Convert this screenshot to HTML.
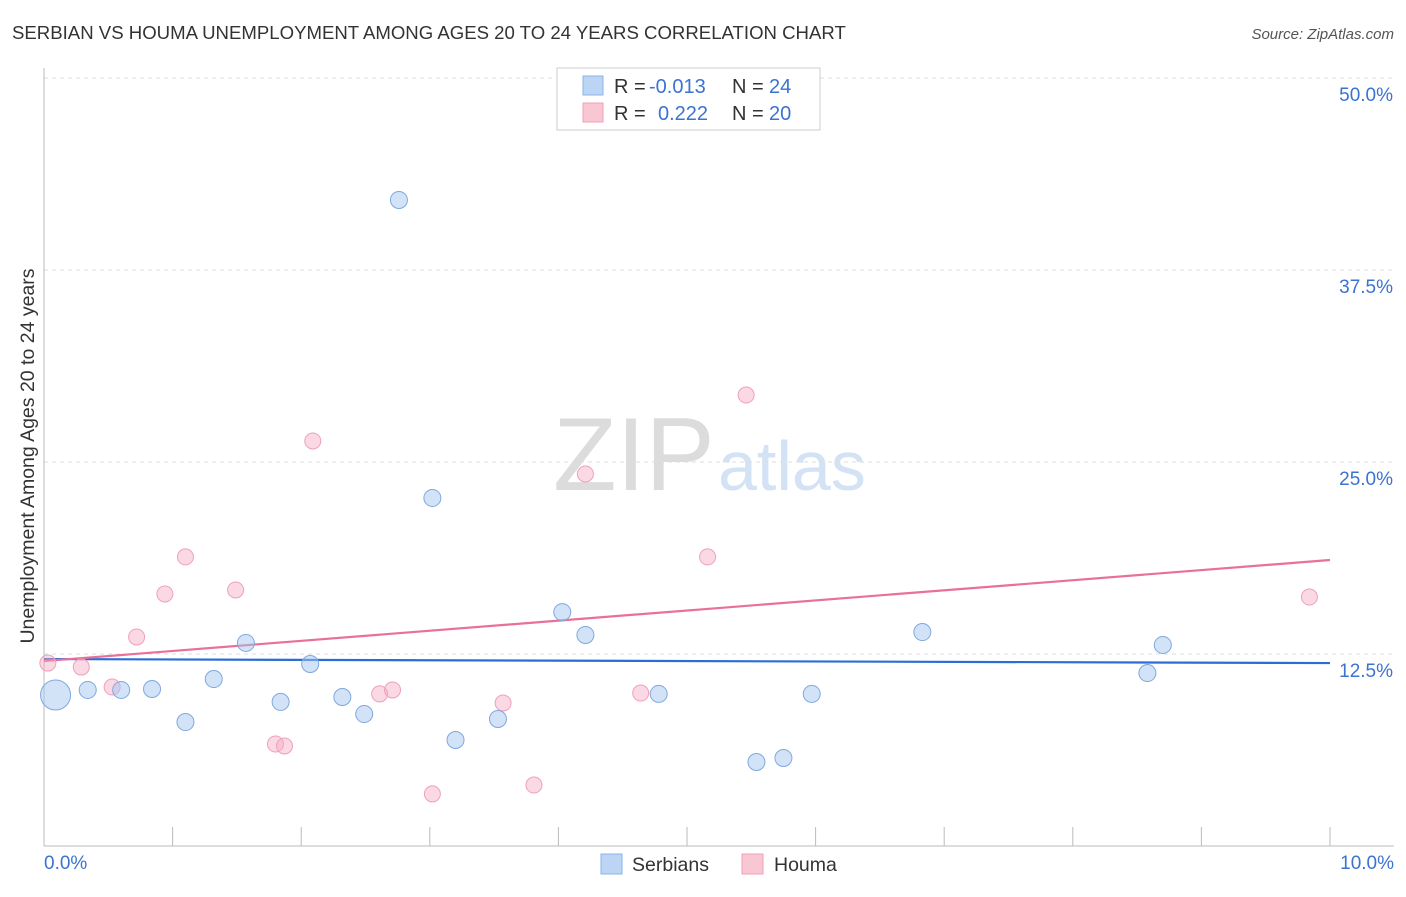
<!DOCTYPE html>
<html><head><meta charset="utf-8">
<style>
body{margin:0;background:#fff;font-family:"Liberation Sans",sans-serif;}
svg text{font-family:"Liberation Sans",sans-serif;}
</style></head>
<body>
<svg id="chart" width="1406" height="892">
<text x="12" y="39" font-size="18.6" fill="#333">SERBIAN VS HOUMA UNEMPLOYMENT AMONG AGES 20 TO 24 YEARS CORRELATION CHART</text>
<text x="1394" y="39" font-size="15" fill="#555" text-anchor="end" font-style="italic">Source: ZipAtlas.com</text>
<text x="34" y="456" font-size="19.5" fill="#333" text-anchor="middle" transform="rotate(-90 34 456)">Unemployment Among Ages 20 to 24 years</text>
<text x="553" y="490" font-size="104" fill="#dcdcdc" font-family="Liberation Serif">ZIP</text>
<text x="718" y="490" font-size="70" fill="#d4e2f6">atlas</text>
<g id="grid"></g>
<g id="trend"></g>
<g id="pts"></g>
<g font-size="20">
<rect x="557" y="68" width="263" height="62" fill="#fff" stroke="#ccc"/>
<rect x="583" y="76" width="20" height="19" fill="#bcd5f5" stroke="#8ab4e8"/>
<text x="614" y="93" fill="#333">R =</text>
<text x="649" y="93" fill="#3b73d0">-0.013</text>
<text x="732" y="93" fill="#333">N =</text>
<text x="769" y="93" fill="#3b73d0">24</text>
<rect x="583" y="103" width="20" height="19" fill="#f9c6d4" stroke="#f0a0b8"/>
<text x="614" y="120" fill="#333">R =</text>
<text x="658" y="120" fill="#3b73d0">0.222</text>
<text x="732" y="120" fill="#333">N =</text>
<text x="769" y="120" fill="#3b73d0">20</text>
</g>
<g>
<rect x="601" y="854" width="21" height="20" fill="#bcd5f5" stroke="#8ab4e8"/>
<text x="632" y="871" font-size="19.5" fill="#333">Serbians</text>
<rect x="742" y="854" width="21" height="20" fill="#f9c6d4" stroke="#f0a0b8"/>
<text x="774" y="871" font-size="19.5" fill="#333">Houma</text>
</g>
<text x="44" y="869" font-size="19" fill="#3b73d0">0.0%</text>
<text x="1394" y="869" font-size="19" fill="#3b73d0" text-anchor="end">10.0%</text>
</svg>
<script>
const serbX=[0.09,0.34,0.60,0.84,1.10,1.32,1.57,1.84,2.07,2.32,2.49,2.76,3.02,3.20,3.53,4.03,4.21,4.78,5.54,5.75,5.97,6.83,8.58,8.70];
const serbY=[9.83,10.16,10.16,10.22,8.07,10.87,13.22,9.38,11.85,9.70,8.59,42.06,22.66,6.90,8.27,15.23,13.74,9.90,5.47,5.73,9.90,13.93,11.26,13.09];
const houX=[0.03,0.29,0.53,0.72,0.94,1.10,1.49,1.80,1.87,2.09,2.61,2.71,3.02,3.57,3.81,4.21,4.64,5.16,5.46,9.84];
const houY=[11.91,11.65,10.35,13.61,16.41,18.82,16.67,6.64,6.51,26.37,9.90,10.16,3.39,9.31,3.97,24.22,9.96,18.82,29.36,16.21];
const serbTrend=[12.17,11.91];
const houTrend=[12.04,18.62];
const yTicks=[12.5,25,37.5,50];
const yTickLabels=["12.5%","25.0%","37.5%","50.0%"];
const xTicks=[0,1,2,3,4,5,6,7,8,9,10];
const NS="http://www.w3.org/2000/svg";
const xs=v=>44+v*128.6, ys=v=>846-v*15.36;
function mk(t,a,p){const e=document.createElementNS(NS,t);for(const k in a)e.setAttribute(k,a[k]);p.appendChild(e);return e;}
const grid=document.getElementById('grid');
yTicks.forEach((t,i)=>{
 const l=mk('line',{x1:44,x2:1394,y1:ys(t),y2:ys(t),stroke:'#ddd','stroke-dasharray':'4,4'},grid);
 
 
 const tx=mk('text',{x:1393,y:ys(t)+23,'font-size':19,fill:'#3b73d0','text-anchor':'end'},grid);
 tx.textContent=yTickLabels[i];
 
 
});
const ax=mk('line',{x1:44,x2:1394,y1:846,y2:846,stroke:'#bbb'},grid);


const ay=mk('line',{x1:44,x2:44,y1:68,y2:846,stroke:'#bbb'},grid);


xTicks.forEach(t=>{
 const l=mk('line',{x1:xs(t),x2:xs(t),y1:827,y2:846,stroke:'#bbb'},grid);
 
 
});
const tr=document.getElementById('trend');
const bl=mk('line',{x1:xs(0),x2:xs(10),y1:ys(serbTrend[0]),y2:ys(serbTrend[1]),stroke:'#2a6dd4','stroke-width':2.2},tr);


const pl=mk('line',{x1:xs(0),x2:xs(10),y1:ys(houTrend[0]),y2:ys(houTrend[1]),stroke:'#e8709a','stroke-width':2.2},tr);


const pts=document.getElementById('pts');
houX.forEach((x,i)=>{
 const c=mk('circle',{cx:xs(x),cy:ys(houY[i]),r:8,fill:'rgba(245,170,195,0.45)',stroke:'#f0a0b8','stroke-width':1},pts);
 
 
});
serbX.forEach((x,i)=>{
 const c=mk('circle',{cx:xs(x),cy:ys(serbY[i]),r:i===0?15:8.5,fill:'rgba(165,198,240,0.5)',stroke:'#7fa8e0','stroke-width':1},pts);
 
 
});
</script>
</body></html>
